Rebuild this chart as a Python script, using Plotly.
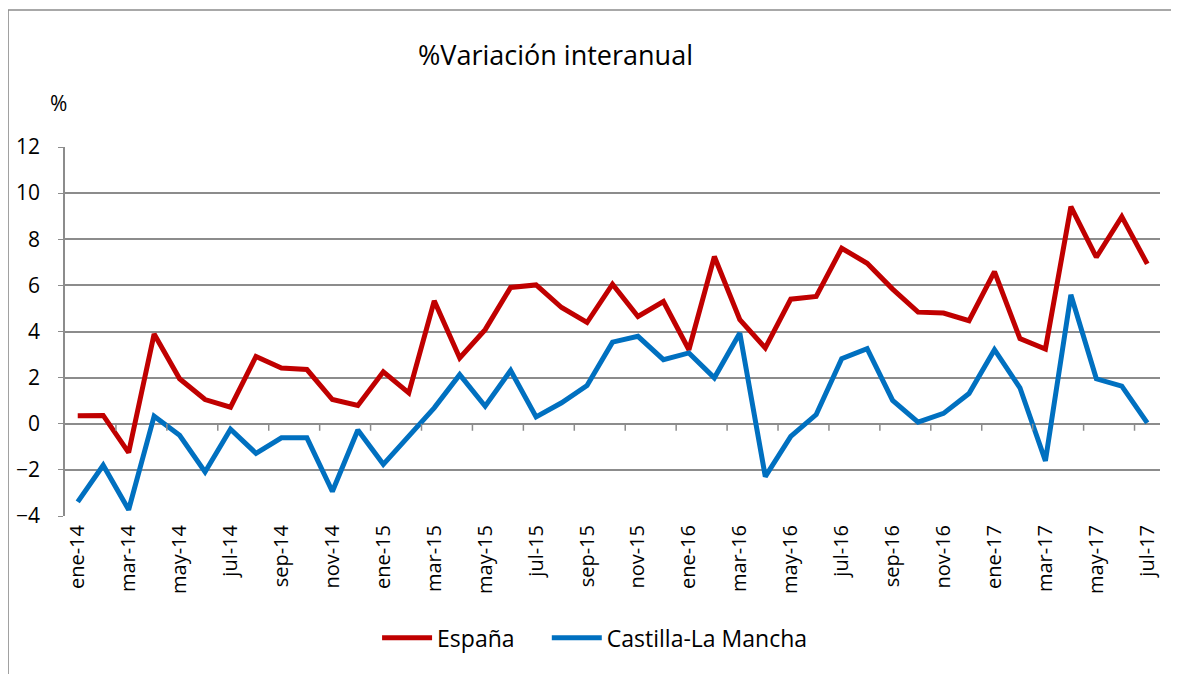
import plotly.graph_objects as go

months = ["ene", "feb", "mar", "abr", "may", "jun", "jul", "ago", "sep", "oct", "nov", "dic"]
categories = [f"{m}-{y}" for y in ["14", "15", "16", "17"] for m in months][:43]

espana = [0.35, 0.36, -1.25, 3.89, 1.95, 1.05, 0.72, 2.92, 2.42, 2.35, 1.05, 0.79,
          2.25, 1.34, 5.33, 2.85, 4.08, 5.91, 6.02, 5.04, 4.39, 6.05, 4.65, 5.30,
          3.21, 7.25, 4.51, 3.29, 5.40, 5.52, 7.61, 6.96, 5.84, 4.84, 4.80, 4.47,
          6.60, 3.69, 3.24, 9.41, 7.22, 8.98, 6.93]
clm = [-3.39, -1.80, -3.73, 0.33, -0.50, -2.09, -0.24, -1.28, -0.61, -0.61, -2.94, -0.27,
       -1.76, -0.50, 0.69, 2.13, 0.76, 2.31, 0.30, 0.91, 1.66, 3.54, 3.79, 2.78,
       3.07, 1.99, 3.93, -2.29, -0.55, 0.40, 2.82, 3.26, 1.01, 0.07, 0.45, 1.31,
       3.21, 1.56, -1.61, 5.59, 1.95, 1.63, 0.04]

y_ticks = [-4, -2, 0, 2, 4, 6, 8, 10, 12]

FONT = "Open Sans"
GRID = "#8c8c8c"

x_idx = list(range(len(categories)))
fig = go.Figure()
fig.add_trace(go.Scatter(x=x_idx, y=espana, mode="lines", name="España",
                         line=dict(color="#C00000", width=5), legend="legend"))
fig.add_trace(go.Scatter(x=x_idx, y=clm, mode="lines", name="Castilla-La Mancha",
                         line=dict(color="#0070C0", width=5), legend="legend2"))

tick_pos = x_idx[::2]
fig.update_xaxes(range=[-0.5, len(categories) - 0.5], tickmode="array",
                 tickvals=tick_pos, ticktext=[categories[i] for i in tick_pos],
                 tickangle=-90, showgrid=False, zeroline=False, showline=False,
                 ticks="", ticklabelstandoff=4,
                 tickfont=dict(family=FONT, size=20, color="#000"))
fig.update_yaxes(range=[-4, 12], tickvals=y_ticks, showgrid=True, gridcolor=GRID,
                 gridwidth=1.5, zeroline=False, showline=True, linecolor=GRID,
                 linewidth=1.5, ticks="outside", ticklen=5, tickcolor=GRID,
                 ticklabelstandoff=14,
                 tickfont=dict(family=FONT, size=21, color="#000"))

# tick marks between category groups on the zero line
shapes = []
for k in range(1, len(categories), 2):
    shapes.append(dict(type="line", xref="x", yref="y", x0=k + 0.5, x1=k + 0.5,
                       ysizemode="pixel", yanchor=0, y0=0, y1=-7,
                       line=dict(color=GRID, width=1.5)))
# outer chart border
shapes.append(dict(type="rect", xref="paper", yref="paper",
                   x0=-0.052, x1=1.0137, y0=-0.6, y1=1.371,
                   line=dict(color="#8c8c8c", width=1.5), layer="below"))
fig.update_layout(shapes=shapes)

fig.add_annotation(text="%Variación interanual", xref="paper", yref="paper",
                   x=0.4475, y=1.25, showarrow=False, xanchor="center", yanchor="middle",
                   font=dict(family=FONT, size=27, color="#000"))
fig.add_annotation(text="%", xref="paper", yref="paper",
                   x=0.004, y=1.12, showarrow=False, xanchor="right", yanchor="middle",
                   font=dict(family=FONT, size=21, color="#000"))

legend_common = dict(orientation="h", y=-0.33, xanchor="left", yanchor="middle",
                     font=dict(family=FONT, size=23, color="#000"), itemwidth=50,
                     bgcolor="rgba(0,0,0,0)")
fig.update_layout(
    width=1171, height=666,
    margin=dict(l=57, r=19, t=139, b=158, autoexpand=False),
    paper_bgcolor="white", plot_bgcolor="white",
    legend=dict(x=0.285, **legend_common),
    legend2=dict(x=0.44, **legend_common),
    showlegend=True,
)

fig.write_html("out.html")
